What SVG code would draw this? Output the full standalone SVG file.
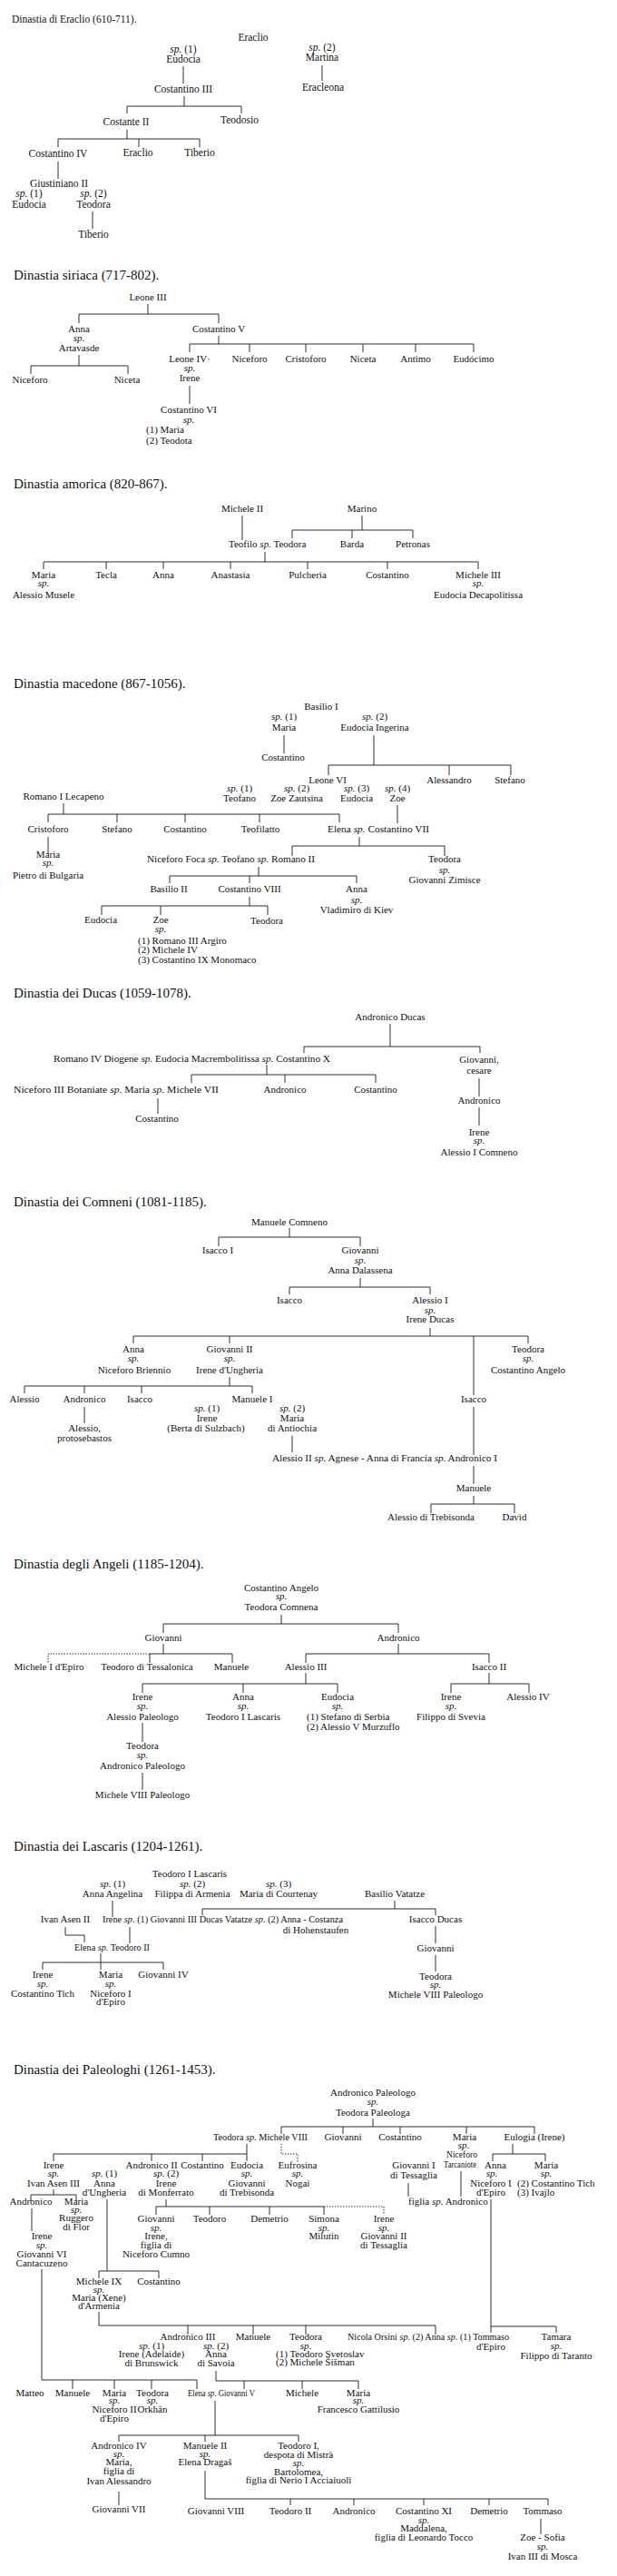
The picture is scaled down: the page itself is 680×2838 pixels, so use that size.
<svg xmlns="http://www.w3.org/2000/svg" width="680" height="2838" viewBox="0 0 680 2838">
<style>
text{font-family:"Liberation Serif","Times New Roman",serif;font-size:11px;fill:#111;text-anchor:middle}
.l{text-anchor:start}
.h{font-size:15px;text-anchor:start}
.i{font-style:italic}
.s{font-size:10px}
.e text{font-size:11.5px}
#connectors path{stroke:#1a1a1a;stroke-width:0.9;fill:none}
#connectors path.d{stroke-dasharray:1.5 1.5}
</style>
<rect width="680" height="2838" fill="#fff"/>

<!-- ===== Eraclio ===== -->
<g id="sec-eraclio" class="e">
<text class="h" x="13" y="25">Dinastia di Eraclio (610-711).</text>
<g id="er-eraclio"><text x="279" y="45">Eraclio</text></g>
<g id="er-eudocia"><text x="202" y="58"><tspan class="i">sp.</tspan> (1)</text><text x="202" y="69">Eudocia</text></g>
<g id="er-martina"><text x="355" y="56"><tspan class="i">sp.</tspan> (2)</text><text x="355" y="67">Martina</text></g>
<g id="er-costantino3"><text x="202" y="102">Costantino III</text></g>
<g id="er-eracleona"><text x="356" y="100">Eracleona</text></g>
<g id="er-costante2"><text x="139" y="138">Costante II</text></g>
<g id="er-teodosio"><text x="264" y="136">Teodosio</text></g>
<g id="er-costantino4"><text x="64" y="173">Costantino IV</text></g>
<g id="er-eraclio2"><text x="152" y="172">Eraclio</text></g>
<g id="er-tiberio"><text x="220" y="172">Tiberio</text></g>
<g id="er-giustiniano2"><text x="65" y="206">Giustiniano II</text></g>
<g id="er-eudocia2"><text x="32" y="217"><tspan class="i">sp.</tspan> (1)</text><text x="32" y="229">Eudocia</text></g>
<g id="er-teodora"><text x="103" y="217"><tspan class="i">sp.</tspan> (2)</text><text x="103" y="229">Teodora</text></g>
<g id="er-tiberio2"><text x="103" y="262">Tiberio</text></g>
</g>

<!-- ===== Siriaca ===== -->
<g id="sec-siriaca">
<text class="h" x="15" y="308">Dinastia siriaca (717-802).</text>
<g id="si-leone3"><text x="163" y="331">Leone III</text></g>
<g id="si-anna"><text x="87" y="366">Anna</text><text x="87" y="376" class="i">sp.</text><text x="87" y="387">Artavasde</text></g>
<g id="si-niceforo"><text x="33" y="422">Niceforo</text></g>
<g id="si-niceta"><text x="140" y="422">Niceta</text></g>
<g id="si-costantino5"><text x="241" y="366">Costantino V</text></g>
<g id="si-leone4"><text x="209" y="399">Leone IV·</text><text x="209" y="409" class="i">sp.</text><text x="209" y="420">Irene</text></g>
<g id="si-niceforo2"><text x="275" y="399">Niceforo</text></g>
<g id="si-cristoforo"><text x="337" y="399">Cristoforo</text></g>
<g id="si-niceta2"><text x="400" y="399">Niceta</text></g>
<g id="si-antimo"><text x="458" y="399">Antimo</text></g>
<g id="si-eudocimo"><text x="522" y="399">Eudócimo</text></g>
<g id="si-costantino6"><text x="208" y="455">Costantino VI</text><text x="208" y="466" class="i">sp.</text><text class="l" x="161" y="477">(1) Maria</text><text class="l" x="161" y="489">(2) Teodota</text></g>
</g>

<!-- ===== Amorica ===== -->
<g id="sec-amorica">
<text class="h" x="15" y="538">Dinastia amorica (820-867).</text>
<g id="am-michele2"><text x="267" y="564">Michele II</text></g>
<g id="am-marino"><text x="399" y="564">Marino</text></g>
<g id="am-teofilo"><text class="l" x="252" y="603">Teofilo <tspan class="i">sp.</tspan> Teodora</text></g>
<g id="am-barda"><text x="388" y="603">Barda</text></g>
<g id="am-petronas"><text x="455" y="603">Petronas</text></g>
<g id="am-maria"><text x="48" y="637">Maria</text><text x="48" y="646" class="i">sp.</text><text x="48" y="659">Alessio Musele</text></g>
<g id="am-tecla"><text x="117" y="637">Tecla</text></g>
<g id="am-anna"><text x="180" y="637">Anna</text></g>
<g id="am-anastasia"><text x="254" y="637">Anastasia</text></g>
<g id="am-pulcheria"><text x="339" y="637">Pulcheria</text></g>
<g id="am-costantino"><text x="427" y="637">Costantino</text></g>
<g id="am-michele3"><text x="527" y="637">Michele III</text><text x="527" y="646" class="i">sp.</text><text x="527" y="659">Eudocia Decapolitissa</text></g>
</g>

<!-- ===== Macedone ===== -->
<g id="sec-macedone">
<text class="h" x="15" y="758">Dinastia macedone (867-1056).</text>
<g id="ma-basilio1"><text x="354" y="782">Basilio I</text></g>
<g id="ma-maria"><text x="313" y="793"><tspan class="i">sp.</tspan> (1)</text><text x="313" y="805">Maria</text></g>
<g id="ma-eudocia"><text x="413" y="793"><tspan class="i">sp.</tspan> (2)</text><text x="413" y="805">Eudocia Ingerina</text></g>
<g id="ma-costantino"><text x="312" y="838">Costantino</text></g>
<g id="ma-leone6"><text x="361" y="863">Leone VI</text></g>
<g id="ma-alessandro"><text x="495" y="863">Alessandro</text></g>
<g id="ma-stefano"><text x="562" y="863">Stefano</text></g>
<g id="ma-teofano"><text x="264" y="872"><tspan class="i">sp.</tspan> (1)</text><text x="264" y="883">Teofano</text></g>
<g id="ma-zoez"><text x="327" y="872"><tspan class="i">sp.</tspan> (2)</text><text x="327" y="883">Zoe Zautsina</text></g>
<g id="ma-eudocia3"><text x="393" y="872"><tspan class="i">sp.</tspan> (3)</text><text x="393" y="883">Eudocia</text></g>
<g id="ma-zoe4"><text x="438" y="872"><tspan class="i">sp.</tspan> (4)</text><text x="438" y="883">Zoe</text></g>
<g id="ma-romano1"><text x="70" y="881">Romano I Lecapeno</text></g>
<g id="ma-cristoforo"><text x="53" y="917">Cristoforo</text></g>
<g id="ma-stefano2"><text x="129" y="917">Stefano</text></g>
<g id="ma-costantino2"><text x="204" y="917">Costantino</text></g>
<g id="ma-teofilatto"><text x="287" y="917">Teofilatto</text></g>
<g id="ma-elena"><text class="l" x="361" y="917" textLength="112" lengthAdjust="spacingAndGlyphs">Elena <tspan class="i">sp.</tspan> Costantino VII</text></g>
<g id="ma-maria2"><text x="53" y="945">Maria</text><text x="53" y="954" class="i">sp.</text><text x="53" y="968">Pietro di Bulgaria</text></g>
<g id="ma-romano2"><text class="l" x="162" y="950" textLength="185" lengthAdjust="spacingAndGlyphs">Niceforo Foca <tspan class="i">sp.</tspan> Teofano <tspan class="i">sp.</tspan> Romano II</text></g>
<g id="ma-teodora"><text x="490" y="950">Teodora</text><text x="490" y="962" class="i">sp.</text><text x="490" y="973">Giovanni Zimisce</text></g>
<g id="ma-basilio2"><text x="186" y="983">Basilio II</text></g>
<g id="ma-costantino8"><text x="275" y="983">Costantino VIII</text></g>
<g id="ma-anna"><text x="393" y="983">Anna</text><text x="393" y="995" class="i">sp.</text><text x="393" y="1006">Vladimiro di Kiev</text></g>
<g id="ma-eudocia4"><text x="111" y="1017">Eudocia</text></g>
<g id="ma-zoe"><text x="177" y="1017">Zoe</text><text x="177" y="1027" class="i">sp.</text><text class="l" x="152" y="1040">(1) Romano III Argiro</text><text class="l" x="152" y="1050">(2) Michele IV</text><text class="l" x="152" y="1061">(3) Costantino IX Monomaco</text></g>
<g id="ma-teodora2"><text x="294" y="1018">Teodora</text></g>
</g>

<!-- ===== Ducas ===== -->
<g id="sec-ducas">
<text class="h" x="15" y="1099">Dinastia dei Ducas (1059-1078).</text>
<g id="du-andronico"><text x="430" y="1124">Andronico Ducas</text></g>
<g id="du-costantino10"><text class="l" x="59" y="1170" textLength="305" lengthAdjust="spacingAndGlyphs">Romano IV Diogene <tspan class="i">sp.</tspan> Eudocia Macrembolitissa <tspan class="i">sp.</tspan> Costantino X</text></g>
<g id="du-giovanni"><text x="528" y="1171">Giovanni,</text><text x="528" y="1183">cesare</text></g>
<g id="du-michele7"><text class="l" x="15" y="1204" textLength="226" lengthAdjust="spacingAndGlyphs">Niceforo III Botaniate <tspan class="i">sp.</tspan> Maria <tspan class="i">sp.</tspan> Michele VII</text></g>
<g id="du-andronico2"><text x="314" y="1204">Andronico</text></g>
<g id="du-costantino2"><text x="414" y="1204">Costantino</text></g>
<g id="du-costantino3"><text x="173" y="1236">Costantino</text></g>
<g id="du-andronico3"><text x="528" y="1216">Andronico</text></g>
<g id="du-irene"><text x="528" y="1251">Irene</text><text x="528" y="1260" class="i">sp.</text><text x="528" y="1273">Alessio I Comneno</text></g>
</g>

<!-- ===== Comneni ===== -->
<g id="sec-comneni">
<text class="h" x="15" y="1329">Dinastia dei Comneni (1081-1185).</text>
<g id="co-manuele"><text x="319" y="1350">Manuele Comneno</text></g>
<g id="co-isacco1"><text x="240" y="1381">Isacco I</text></g>
<g id="co-giovanni"><text x="397" y="1381">Giovanni</text><text x="397" y="1392" class="i">sp.</text><text x="397" y="1403">Anna Dalassena</text></g>
<g id="co-isacco"><text x="319" y="1436">Isacco</text></g>
<g id="co-alessio1"><text x="474" y="1436">Alessio I</text><text x="474" y="1447" class="i">sp.</text><text x="474" y="1457">Irene Ducas</text></g>
<g id="co-anna"><text x="147" y="1490">Anna</text><text x="147" y="1500" class="i">sp.</text><text x="148" y="1513">Niceforo Briennio</text></g>
<g id="co-giovanni2"><text x="253" y="1490">Giovanni II</text><text x="253" y="1500" class="i">sp.</text><text x="253" y="1513">Irene d'Ungheria</text></g>
<g id="co-teodora"><text x="582" y="1490">Teodora</text><text x="582" y="1500" class="i">sp.</text><text x="582" y="1513">Costantino Angelo</text></g>
<g id="co-alessio"><text x="27" y="1545">Alessio</text></g>
<g id="co-andronico"><text x="93" y="1545">Andronico</text></g>
<g id="co-isacco2"><text x="154" y="1545">Isacco</text></g>
<g id="co-manuele1"><text x="278" y="1545">Manuele I</text></g>
<g id="co-isacco3"><text x="522" y="1545">Isacco</text></g>
<g id="co-alessio-p"><text x="93" y="1577">Alessio,</text><text x="93" y="1588">protosebastos</text></g>
<g id="co-irene"><text x="228" y="1555"><tspan class="i">sp.</tspan> (1)</text><text x="228" y="1566">Irene</text><text x="227" y="1577">(Berta di Sulzbach)</text></g>
<g id="co-maria"><text x="322" y="1555"><tspan class="i">sp.</tspan> (2)</text><text x="322" y="1566">Maria</text><text x="322" y="1577">di Antiochia</text></g>
<g id="co-alessio2"><text class="l" x="300" y="1610" textLength="248" lengthAdjust="spacingAndGlyphs">Alessio II <tspan class="i">sp.</tspan> Agnese - Anna di Francia <tspan class="i">sp.</tspan> Andronico I</text></g>
<g id="co-manuele2"><text x="522" y="1643">Manuele</text></g>
<g id="co-alessio-t"><text x="475" y="1675">Alessio di Trebisonda</text></g>
<g id="co-david"><text x="567" y="1675">David</text></g>
</g>

<!-- ===== Angeli ===== -->
<g id="sec-angeli">
<text class="h" x="15" y="1728">Dinastia degli Angeli (1185-1204).</text>
<g id="an-costantino"><text x="310" y="1753">Costantino Angelo</text><text x="310" y="1762" class="i">sp.</text><text x="310" y="1774">Teodora Comnena</text></g>
<g id="an-giovanni"><text x="180" y="1808">Giovanni</text></g>
<g id="an-andronico"><text x="439" y="1808">Andronico</text></g>
<g id="an-michele1"><text x="54" y="1840">Michele I d'Epiro</text></g>
<g id="an-teodoro"><text x="162" y="1840">Teodoro di Tessalonica</text></g>
<g id="an-manuele"><text x="255" y="1840">Manuele</text></g>
<g id="an-alessio3"><text x="337" y="1840">Alessio III</text></g>
<g id="an-isacco2"><text x="539" y="1840">Isacco II</text></g>
<g id="an-irene"><text x="157" y="1873">Irene</text><text x="157" y="1883" class="i">sp.</text><text x="157" y="1895">Alessio Paleologo</text></g>
<g id="an-anna"><text x="268" y="1873">Anna</text><text x="268" y="1883" class="i">sp.</text><text x="268" y="1895">Teodoro I Lascaris</text></g>
<g id="an-eudocia"><text x="372" y="1873">Eudocia</text><text x="372" y="1883" class="i">sp.</text><text class="l" x="338" y="1895">(1) Stefano di Serbia</text><text class="l" x="338" y="1906">(2) Alessio V Murzuflo</text></g>
<g id="an-irene2"><text x="497" y="1873">Irene</text><text x="497" y="1883" class="i">sp.</text><text x="497" y="1895">Filippo di Svevia</text></g>
<g id="an-alessio4"><text x="582" y="1873">Alessio IV</text></g>
<g id="an-teodora"><text x="157" y="1927">Teodora</text><text x="157" y="1937" class="i">sp.</text><text x="157" y="1949">Andronico Paleologo</text></g>
<g id="an-michele8"><text x="157" y="1981">Michele VIII Paleologo</text></g>
</g>

<!-- ===== Lascaris ===== -->
<g id="sec-lascaris">
<text class="h" x="15" y="2039">Dinastia dei Lascaris (1204-1261).</text>
<g id="la-teodoro1"><text x="209" y="2068">Teodoro I Lascaris</text></g>
<g id="la-anna"><text x="124" y="2079"><tspan class="i">sp.</tspan> (1)</text><text x="124" y="2090">Anna Angelina</text></g>
<g id="la-filippa"><text x="212" y="2079"><tspan class="i">sp.</tspan> (2)</text><text x="212" y="2090">Filippa di Armenia</text></g>
<g id="la-maria"><text x="307" y="2079"><tspan class="i">sp.</tspan> (3)</text><text x="307" y="2090">Maria di Courtenay</text></g>
<g id="la-basilio"><text x="435" y="2090">Basilio Vatatze</text></g>
<g id="la-ivan"><text x="72" y="2118">Ivan Asen II</text></g>
<g id="la-giovanni3"><text class="l s" x="113" y="2118" textLength="265" lengthAdjust="spacingAndGlyphs">Irene <tspan class="i">sp.</tspan> (1) Giovanni III Ducas Vatatze <tspan class="i">sp.</tspan> (2) Anna - Costanza</text><text x="348" y="2130">di Hohenstaufen</text></g>
<g id="la-isacco"><text x="480" y="2118">Isacco Ducas</text></g>
<g id="la-elena"><text class="l" x="82" y="2149" textLength="83" lengthAdjust="spacingAndGlyphs">Elena <tspan class="i">sp.</tspan> Teodoro II</text></g>
<g id="la-giovanni"><text x="480" y="2150">Giovanni</text></g>
<g id="la-irene"><text x="47" y="2179">Irene</text><text x="47" y="2189" class="i">sp.</text><text x="47" y="2200">Costantino Tich</text></g>
<g id="la-maria2"><text x="122" y="2179">Maria</text><text x="122" y="2189" class="i">sp.</text><text x="122" y="2200">Niceforo I</text><text x="122" y="2209">d'Epiro</text></g>
<g id="la-giovanni4"><text x="180" y="2179">Giovanni IV</text></g>
<g id="la-teodora"><text x="480" y="2181">Teodora</text><text x="480" y="2190" class="i">sp.</text><text x="480" y="2201">Michele VIII Paleologo</text></g>
</g>

<!-- ===== Paleologhi ===== -->
<g id="sec-paleologhi">
<text class="h" x="15" y="2285">Dinastia dei Paleologhi (1261-1453).</text>
<g id="pa-andronico"><text x="411" y="2309">Andronico Paleologo</text><text x="411" y="2319" class="i">sp.</text><text x="411" y="2331">Teodora Paleologa</text></g>
<g id="pa-michele8"><text class="l" x="235" y="2358" textLength="104" lengthAdjust="spacingAndGlyphs">Teodora <tspan class="i">sp.</tspan> Michele VIII</text></g>
<g id="pa-giovanni"><text x="378" y="2358">Giovanni</text></g>
<g id="pa-costantino"><text x="441" y="2358">Costantino</text></g>
<g id="pa-maria"><text x="512" y="2358">Maria</text><text x="511" y="2367" class="i">sp.</text><text x="509" y="2377" textLength="34" lengthAdjust="spacingAndGlyphs">Niceforo</text><text x="507" y="2388" textLength="36" lengthAdjust="spacingAndGlyphs">Tarcaniote</text></g>
<g id="pa-eulogia"><text x="589" y="2358">Eulogia (Irene)</text></g>
<g id="pa-irene"><text x="59" y="2389">Irene</text><text x="59" y="2398" class="i">sp.</text><text x="59" y="2409">Ivan Asen III</text></g>
<g id="pa-andronico2"><text x="167" y="2389">Andronico II</text></g>
<g id="pa-anna-u"><text x="115" y="2398"><tspan class="i">sp.</tspan> (1)</text><text x="115" y="2409">Anna</text><text x="115" y="2419">d'Ungheria</text></g>
<g id="pa-irene-m"><text x="183" y="2398"><tspan class="i">sp.</tspan> (2)</text><text x="183" y="2409">Irene</text><text x="183" y="2419">di Monferrato</text></g>
<g id="pa-costantino2"><text x="223" y="2389">Costantino</text></g>
<g id="pa-eudocia"><text x="272" y="2389">Eudocia</text><text x="272" y="2398" class="i">sp.</text><text x="272" y="2409">Giovanni</text><text x="272" y="2419">di Trebisonda</text></g>
<g id="pa-eufrosina"><text x="328" y="2389">Eufrosina</text><text x="328" y="2398" class="i">sp.</text><text x="328" y="2409">Nogai</text></g>
<g id="pa-giovanni1"><text x="456" y="2389">Giovanni I</text><text x="456" y="2400">di Tessaglia</text></g>
<g id="pa-figlia"><text class="l" x="450" y="2429">figlia <tspan class="i">sp.</tspan> Andronico</text></g>
<g id="pa-anna"><text x="546" y="2389">Anna</text><text x="542" y="2398" class="i">sp.</text><text x="541" y="2409">Niceforo I</text><text x="541" y="2419">d'Epiro</text></g>
<g id="pa-maria2"><text x="602" y="2389">Maria</text><text x="602" y="2398" class="i">sp.</text><text class="l" x="570" y="2409">(2) Costantino Tich</text><text class="l" x="570" y="2419">(3) Ivajlo</text></g>
<g id="pa-andronico3"><text x="34" y="2429">Andronico</text></g>
<g id="pa-maria3"><text x="84" y="2429">Maria</text><text x="84" y="2438" class="i">sp.</text><text x="84" y="2447">Ruggero</text><text x="84" y="2457">di Flor</text></g>
<g id="pa-irene2"><text x="46" y="2467">Irene</text><text x="46" y="2477" class="i">sp.</text><text x="46" y="2487">Giovanni VI</text><text x="46" y="2497">Cantacuzeno</text></g>
<g id="pa-giovanni2"><text x="172" y="2448">Giovanni</text><text x="172" y="2458" class="i">sp.</text><text x="172" y="2467">Irene,</text><text x="172" y="2477">figlia di</text><text x="172" y="2487">Niceforo Cumno</text></g>
<g id="pa-teodoro"><text x="231" y="2448">Teodoro</text></g>
<g id="pa-demetrio"><text x="297" y="2448">Demetrio</text></g>
<g id="pa-simona"><text x="357" y="2448">Simona</text><text x="357" y="2458" class="i">sp.</text><text x="357" y="2467">Milutin</text></g>
<g id="pa-irene3"><text x="423" y="2448">Irene</text><text x="423" y="2458" class="i">sp.</text><text x="423" y="2467">Giovanni II</text><text x="423" y="2477">di Tessaglia</text></g>
<g id="pa-michele9"><text x="109" y="2517">Michele IX</text><text x="109" y="2526" class="i">sp.</text><text x="109" y="2535">Maria (Xene)</text><text x="109" y="2544">d'Armenia</text></g>
<g id="pa-costantino3"><text x="175" y="2517">Costantino</text></g>
<g id="pa-andronico3b"><text x="207" y="2578">Andronico III</text></g>
<g id="pa-irene-a"><text x="167" y="2588"><tspan class="i">sp.</tspan> (1)</text><text x="167" y="2597">Irene (Adelaide)</text><text x="167" y="2607">di Brunswick</text></g>
<g id="pa-anna-s"><text x="238" y="2588"><tspan class="i">sp.</tspan> (2)</text><text x="238" y="2597">Anna</text><text x="238" y="2607">di Savoia</text></g>
<g id="pa-manuele"><text x="279" y="2578">Manuele</text></g>
<g id="pa-teodora"><text x="337" y="2578">Teodora</text><text x="337" y="2588" class="i">sp.</text><text class="l" x="304" y="2597">(1) Teodoro Svetoslav</text><text class="l" x="304" y="2606">(2) Michele Šišman</text></g>
<g id="pa-anna2"><text class="l" x="383" y="2578" textLength="178" lengthAdjust="spacingAndGlyphs">Nicola Orsini <tspan class="i">sp.</tspan> (2) Anna <tspan class="i">sp.</tspan> (1) Tommaso</text><text x="541" y="2589">d'Epiro</text></g>
<g id="pa-tamara"><text x="613" y="2578">Tamara</text><text x="613" y="2588" class="i">sp.</text><text x="613" y="2599">Filippo di Taranto</text></g>
<g id="pa-matteo"><text x="33" y="2640">Matteo</text></g>
<g id="pa-manuele2"><text x="80" y="2640">Manuele</text></g>
<g id="pa-maria4"><text x="126" y="2640">Maria</text><text x="126" y="2648" class="i">sp.</text><text x="126" y="2658">Niceforo II</text><text x="126" y="2668">d'Epiro</text></g>
<g id="pa-teodora2"><text x="168" y="2640">Teodora</text><text x="168" y="2648" class="i">sp.</text><text x="168" y="2658">Orkhān</text></g>
<g id="pa-elena"><text class="l s" x="207" y="2640" textLength="74" lengthAdjust="spacingAndGlyphs">Elena <tspan class="i">sp.</tspan> Giovanni V</text></g>
<g id="pa-michele"><text x="333" y="2640">Michele</text></g>
<g id="pa-maria5"><text x="395" y="2640">Maria</text><text x="395" y="2648" class="i">sp.</text><text x="395" y="2658">Francesco Gattilusio</text></g>
<g id="pa-andronico4"><text x="131" y="2698">Andronico IV</text><text x="131" y="2707" class="i">sp.</text><text x="131" y="2716">Maria,</text><text x="131" y="2726">figlia di</text><text x="131" y="2737">Ivan Alessandro</text></g>
<g id="pa-giovanni7"><text x="131" y="2768">Giovanni VII</text></g>
<g id="pa-manuele2b"><text x="226" y="2698">Manuele II</text><text x="226" y="2707" class="i">sp.</text><text x="226" y="2716">Elena Dragaš</text></g>
<g id="pa-teodoro1"><text x="329" y="2698">Teodoro I,</text><text x="329" y="2708">despota di Mistrà</text><text x="329" y="2717" class="i">sp.</text><text x="329" y="2727">Bartolomea,</text><text x="329" y="2736">figlia di Nerio I Acciaiuoli</text></g>
<g id="pa-giovanni8"><text x="238" y="2770">Giovanni VIII</text></g>
<g id="pa-teodoro2"><text x="320" y="2770">Teodoro II</text></g>
<g id="pa-andronico5"><text x="390" y="2770">Andronico</text></g>
<g id="pa-costantino11"><text x="467" y="2770">Costantino XI</text><text x="467" y="2780" class="i">sp.</text><text x="467" y="2789">Maddalena,</text><text x="467" y="2799">figlia di Leonardo Tocco</text></g>
<g id="pa-demetrio2"><text x="539" y="2770">Demetrio</text></g>
<g id="pa-tommaso"><text x="598" y="2770">Tommaso</text></g>
<g id="pa-zoe"><text x="598" y="2799">Zoe - Sofia</text><text x="598" y="2809" class="i">sp.</text><text x="598" y="2820">Ivan III di Mosca</text></g>
</g>

<!-- ===== Connectors ===== -->
<g id="connectors">
<!-- Eraclio -->
<path d="M202 73V92M355 72V89M203 106V117M140 125V117H266V125M140 143V153M64 162V153H220V162M153 153V162M64 178V197M102 233V252"/>
<!-- Siriaca -->
<path d="M163 335V346M87 356V346H241V356M87 391V403M34 412V403H141V412M241 370V379M209 388V379H522V388M275 379V388M337 379V388M400 379V388M458 379V388M209 425V445"/>
<!-- Amorica -->
<path d="M267 568V595M399 568V584M322 593V584H455V593M388 584V593M292 608V619M48 627V619H527V627M117 619V627M180 619V627M254 619V627M339 619V627M427 619V627"/>
<!-- Macedone -->
<path d="M313 810V830M412 810V843M362 854V843H563V854M495 843V854M438 887V907M70 885V897M53 906V897H374V906M129 897V906M204 897V906M286 897V906M53 922V941M396 922V932M322 943V932H490V943M285 955V965M187 973V965H393V973M275 965V973M275 988V998M112 1008V998H295V1008M177 998V1008"/>
<!-- Ducas -->
<path d="M430 1128V1153M335 1160V1153H529V1160M294 1173V1184M211 1193V1184H414V1193M314 1184V1193M174 1210V1227M528 1188V1208M528 1220V1240"/>
<!-- Comneni -->
<path d="M319 1353V1363M241 1373V1363H397V1373M397 1408V1418M319 1426V1418H474V1426M474 1463V1472M147 1480V1472H582V1480M253 1472V1480M522 1472V1537M253 1517V1527M27 1535V1527H278V1535M93 1527V1535M156 1527V1535M93 1550V1568M322 1582V1600M522 1550V1603M522 1615V1635M522 1648V1657M475 1667V1657H567V1667"/>
<!-- Angeli -->
<path d="M310 1779V1789M180 1799V1789H439V1799M180 1811V1822M165 1832V1822H256V1832M439 1811V1822M337 1832V1822H539V1832M337 1843V1855M157 1865V1855H372V1865M268 1855V1865M539 1843V1855M497 1865V1855H583V1865M157 1898V1919M157 1953V1972"/>
<path class="d" d="M165 1822H53V1832"/>
<!-- Lascaris -->
<path d="M124 2094V2112M435 2094V2103M223 2110V2103H480V2110M72 2123V2132H93V2140M143 2123V2141M111 2152V2162M47 2170V2162H180V2170M111 2162V2170M480 2122V2141M480 2154V2172"/>
<!-- Paleologhi -->
<path d="M411 2334V2343M310 2351V2343H589V2351M378 2343V2351M441 2343V2351M514 2343V2351M272 2362V2381M59 2381V2373H272M167 2373V2381M223 2373V2381M565 2362V2373M543 2381V2373H601V2381M450 2405V2420M508 2392V2420M59 2412V2418M34 2425V2418H84V2425M35 2433V2458M46 2500V2622H217V2632M80 2622V2632M126 2622V2632M167 2622V2632M118 2423V2502M109 2510V2502H175V2510M183 2423V2431M172 2440V2431H357V2440M231 2431V2440M297 2431V2440M541 2423V2563M541 2570V2563H613V2570M109 2547V2562H480V2572M207 2562V2572M279 2562V2572M337 2562V2572M238 2612V2623H395V2632M269 2623V2632M333 2623V2632M237 2645V2683M131 2690V2683H329V2690M226 2683V2690M131 2745V2760M226 2722V2753H604V2760M320 2753V2760M390 2753V2760M467 2753V2760M539 2753V2760M596 2775V2792"/>
<path class="d" d="M310 2362V2373H328V2382M357 2431H423V2440"/>
</g>
</svg>
